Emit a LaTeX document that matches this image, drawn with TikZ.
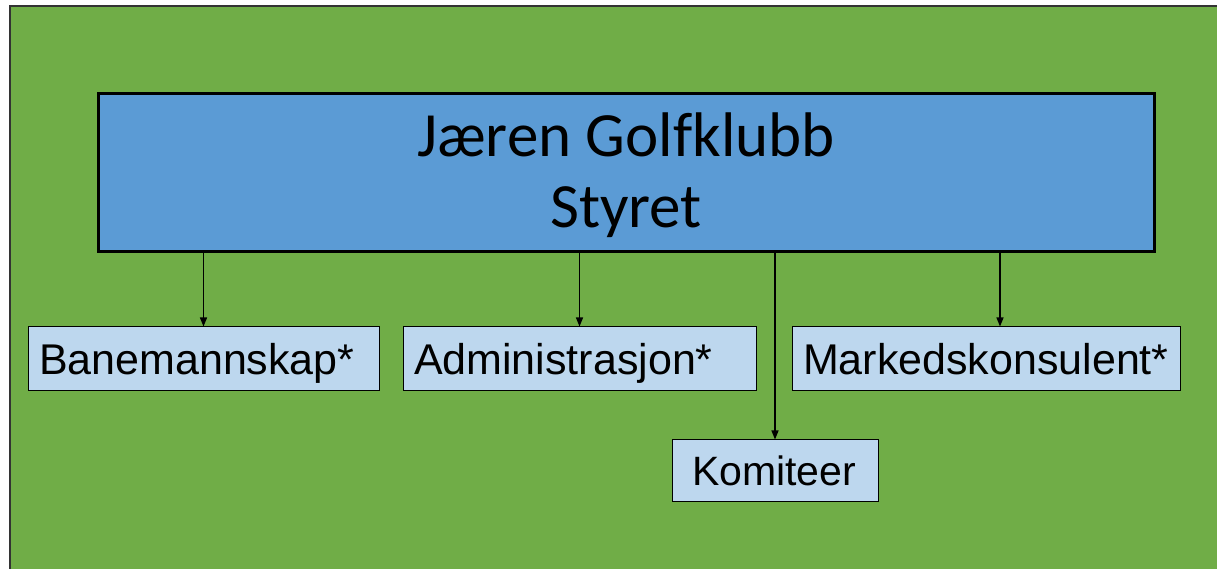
\documentclass[tikz,border=0pt]{standalone}
\usepackage{fontspec}
\setmainfont{Liberation Sans}
\newfontfamily\calibri[Ligatures=NoCommon]{Carlito}
\usetikzlibrary{
    arrows.meta,
    positioning
}
\definecolor{golfgreen}{HTML}{70AD47}
\definecolor{boardblue}{HTML}{5B9BD5}
\definecolor{unitblue}{HTML}{BDD7EE}
\tikzset{
    >={Triangle[length=9pt,width=7pt]},
    board/.style={draw, line width=3pt, fill=boardblue, minimum width=1056pt,
        minimum height=158pt, align=center, text depth=5pt,
        font=\calibri\fontsize{63}{71}\selectfont},
    unit/.style={draw, line width=1pt, fill=unitblue, minimum height=64pt,
        inner xsep=11pt, inner ysep=0pt, align=left, text height=31pt, text depth=0pt,
        font=\fontsize{43}{50}\selectfont},
    link/.style={->, line width=1.3pt},
}

\begin{document}
\begin{tikzpicture}[x=1pt,y=1pt]
   \useasboundingbox (0,0) rectangle (1217,569);
   \filldraw[fill=golfgreen, draw=black!80, line width=1.2pt] (10,-5) rectangle (1225,563);
   \node[board] (styret) at (626,396) {Jæren Golfklubb\\Styret};
   \node[unit, text width=329pt] (bane) at (203.5,210) {Banemannskap*};
   \node[unit, text width=331pt] (adm) at (579.5,210) {Administrasjon*};
   \node[unit, text width=366pt] (mark) at (986,210) {Markedskonsulent*};
   \node[unit, text width=166pt, inner xsep=20pt, text height=29pt, minimum height=62pt,
         font=\fontsize{41}{48}\selectfont] (kom) at (775,98) {Komiteer};
   \draw[link] (styret.south -| bane.north) -- (bane.north);
   \draw[link] (styret.south -| adm.north) -- (adm.north);
   \draw[link] (styret.south -| kom.north) -- (kom.north);
   \draw[link] (styret.south -| 1000,0) -- (mark.north -| 1000,0);
\end{tikzpicture}
\end{document}
